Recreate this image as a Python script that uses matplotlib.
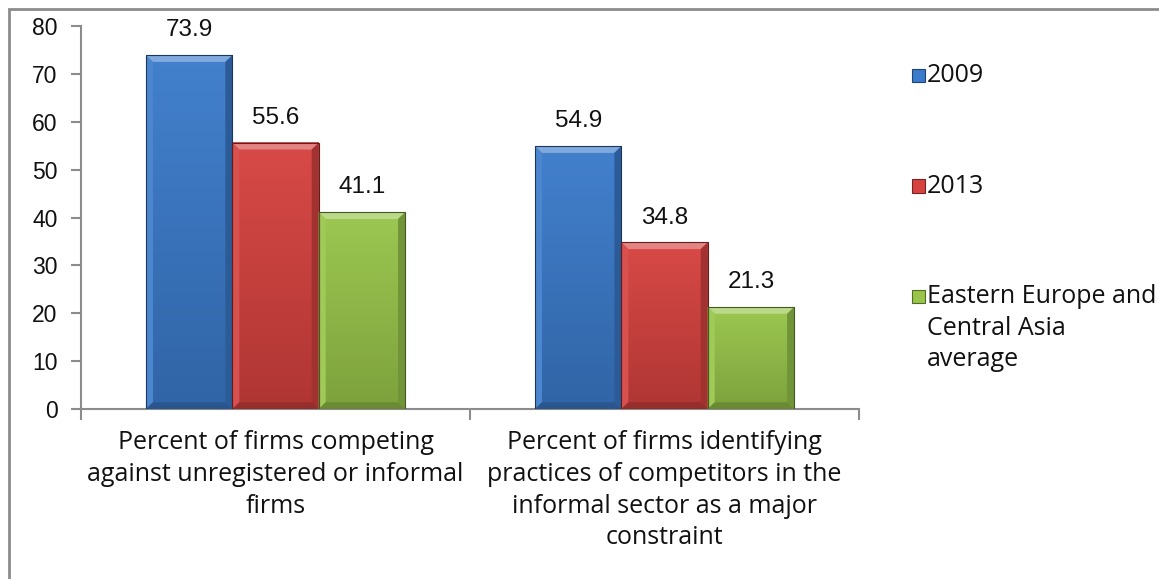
import numpy as np
import matplotlib
matplotlib.use("Agg")
import matplotlib.pyplot as plt
from matplotlib.patches import Polygon, Rectangle
from matplotlib.colors import to_rgb

# ------------------------------------------------------------------
# Data
# ------------------------------------------------------------------
categories = [
    "Percent of firms competing\nagainst unregistered or informal\nfirms",
    "Percent of firms identifying\npractices of competitors in the\ninformal sector as a major\nconstraint",
]
series_names = ["2009", "2013", "Eastern Europe and\nCentral Asia\naverage"]
values_2009 = [73.9, 54.9]
values_2013 = [55.6, 34.8]
values_eca = [41.1, 21.3]
series_values = [values_2009, values_2013, values_eca]
colors = ["#3B7BCB", "#D6423F", "#98C54A"]

plt.rcParams["font.family"] = ["Liberation Sans", "DejaVu Sans"]
TEXT_FONT = ["Open Sans", "DejaVu Sans"]

fig = plt.figure(figsize=(11.59, 5.79), dpi=100)
ax = fig.add_axes([0.0699, 0.2936, 0.6713, 0.6614])

x = np.arange(len(categories))
width = 0.222


def shade(c, f):
    r = np.array(to_rgb(c))
    if f >= 0:
        return tuple(r + (1 - r) * f)
    return tuple(r * (1 + f))


def bevel_bar(ax, x0, h, w, color):
    """Bar with a soft gradient body and bevelled edges."""
    grad = np.linspace(0, 1, 64).reshape(-1, 1)
    top, bot = np.array(shade(color, 0.04)), np.array(shade(color, -0.18))
    img = top * (1 - grad[..., None]) + bot * grad[..., None]
    ax.imshow(img, extent=(x0, x0 + w, 0, h), aspect="auto",
              origin="upper", zorder=2, interpolation="bilinear")
    bx, by = 0.018, 1.4
    x1 = x0 + w
    faces = [
        ([(x0, h), (x1, h), (x1 - bx, h - by), (x0 + bx, h - by)], 0.35),
        ([(x0, 0), (x0, h), (x0 + bx, h - by), (x0 + bx, by)], 0.08),
        ([(x1, 0), (x1, h), (x1 - bx, h - by), (x1 - bx, by)], -0.25),
        ([(x0, 0), (x1, 0), (x1 - bx, by), (x0 + bx, by)], -0.3),
    ]
    for pts, f in faces:
        ax.add_patch(Polygon(pts, closed=True, facecolor=shade(color, f),
                             edgecolor="none", zorder=3))
    ax.add_patch(Rectangle((x0, 0), w, h, facecolor="none",
                           edgecolor=shade(color, -0.55), linewidth=0.8,
                           zorder=4))


for i, (vals, col) in enumerate(zip(series_values, colors)):
    for j, v in enumerate(vals):
        x0 = x[j] + (i - 1) * width - width / 2
        bevel_bar(ax, x0, v, width, col)
        ax.annotate(f"{v}", (x0 + width / 2, v), xytext=(0, 10),
                    textcoords="offset points", ha="center", va="bottom",
                    fontsize=17.5, color="#111111")

ax.set_xlim(-0.5, 1.5)
ax.set_ylim(0, 80)
ax.set_yticks(range(0, 81, 10))
ax.set_xticks(x)
ax.set_xticklabels(categories, fontsize=18, linespacing=1.36,
                   family=TEXT_FONT, color="#111111")
ax.set_xticks([-0.5, 0.5, 1.5], minor=True)
ax.tick_params(axis="x", which="major", length=0, pad=15)
ax.tick_params(axis="x", which="minor", length=8, width=1.5,
               color="#8C8C8C", direction="out")
ax.tick_params(axis="y", length=7, width=1.5, color="#8C8C8C",
               labelsize=16.5, pad=10, labelcolor="#111111")
for side in ("top", "right"):
    ax.spines[side].set_visible(False)
for side in ("left", "bottom"):
    ax.spines[side].set_color("#8C8C8C")
    ax.spines[side].set_linewidth(1.5)

# Legend drawn by hand so each swatch sits on the first line of its label
leg_y = [0.870, 0.679, 0.489]
for name, col, yy in zip(series_names, colors, leg_y):
    fig.patches.append(Rectangle((0.7868, yy - 0.012), 0.0115, 0.023,
                                 transform=fig.transFigure,
                                 facecolor=col,
                                 edgecolor=shade(col, -0.45),
                                 linewidth=0.8))
    fig.text(0.7998, yy + 0.021, name, fontsize=18, va="top", ha="left",
             linespacing=1.36, color="#111111", family=TEXT_FONT)

# Outer frame
fig.patches.append(Rectangle((0.0078, -0.01), 1.1, 0.9937,
                             transform=fig.transFigure, facecolor="none",
                             edgecolor="#8C8C8C", linewidth=2))

fig.savefig("out.png", dpi=100)
